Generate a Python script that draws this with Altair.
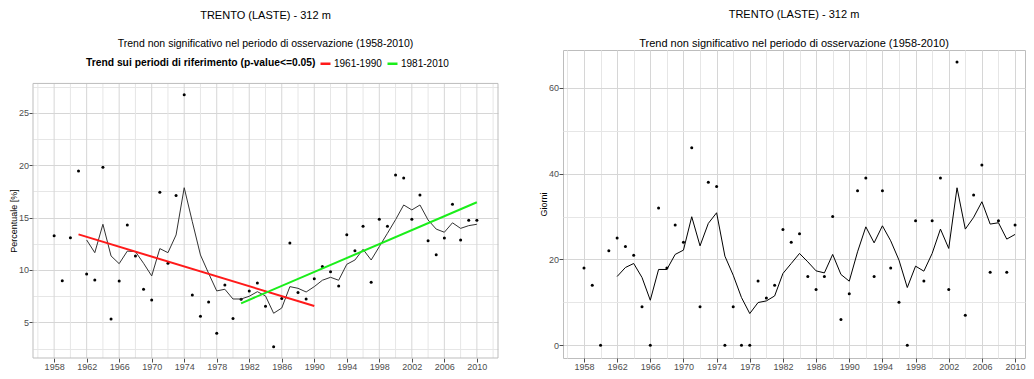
import altair as alt
import pandas as pd

YEARS = list(range(1958, 2011))
SMOOTH_YEARS = list(range(1962, 2011))

PCT = [13.27, 8.98, 13.08, 19.45, 9.62, 9.05, 19.8, 5.32, 8.95, 14.3,
       11.34, 8.16, 7.14, 17.41, 10.64, 17.1, 26.73, 7.61, 5.58, 6.95,
       3.96, 8.57, 5.36, 7.2, 8.0, 8.76, 6.53, 2.68, 7.27, 12.58,
       7.84, 7.23, 9.17, 10.32, 9.84, 8.47, 13.37, 11.84, 14.17, 8.83,
       14.84, 14.17, 19.06, 18.78, 14.84, 17.16, 12.8, 11.46, 13.05, 16.27,
       12.86, 14.74, 14.74]
PCT_SMOOTH = [12.86, 11.65, 14.36, 11.34, 10.6, 11.8, 11.75, 10.64, 9.43, 12.04,
              11.65, 13.34, 17.85, 14.6, 11.43, 9.68, 8.0, 8.16, 7.23, 7.23,
              7.49, 7.93, 7.52, 5.87, 6.37, 8.41, 8.25, 7.9, 8.41, 9.02,
              9.3, 9.02, 10.54, 10.95, 11.97, 10.95, 12.23, 13.5, 14.8, 16.2,
              15.73, 16.2, 14.77, 13.9, 13.6, 14.5, 13.97, 14.23, 14.36]

DAYS = [18, 14, 0, 22, 25, 23, 21, 9, 0, 32,
        18, 28, 24, 46, 9, 38, 37, 0, 9, 0,
        0, 15, 11, 14, 27, 24, 26, 16, 13, 16,
        30, 6, 12, 36, 39, 16, 36, 18, 10, 0,
        29, 15, 29, 39, 13, 66, 7, 35, 42, 17,
        29, 17, 28]
DAYS_SMOOTH = [16.03, 18.13, 19.06, 15.8, 10.5, 17.67, 17.67, 21.17, 22.17, 29.95,
               23.17, 28.4, 30.88, 20.77, 16.34, 11.13, 7.4, 9.96, 10.34, 11.5,
               16.73, 19.06, 21.4, 19.44, 17.34, 16.87, 21.17, 16.5, 14.94, 21.77,
               27.6, 23.87, 27.84, 24.34, 19.84, 13.46, 18.44, 17.27, 21.4, 27.07,
               22.57, 36.7, 27.07, 29.8, 33.45, 28.24, 28.55, 24.74, 25.83]

TREND_PERIODS = ["1961-1990", "1961-1990", "1981-2010", "1981-2010"]
TREND_YEARS = [1961, 1990, 1981, 2010]
TREND_VALUES = [13.4, 6.56, 6.82, 16.46]

TITLE = "TRENTO (LASTE) - 312 m"
SUBTITLE = "Trend non significativo nel periodo di osservazione (1958-2010)"
LEGEND_TITLE = "Trend sui periodi di riferimento (p-value<=0.05)"
Y_LEFT = "Percentuale [%]"
Y_RIGHT = "Giorni"

# panel extents (data units)
LEFT_X = [1955.4, 2012.6]
LEFT_Y_PANEL = [1.6, 27.8]
LEFT_Y_SCALE = [1.6, 30.99]
RIGHT_X = [1955.47, 2011.2]
RIGHT_Y = [-2.96, 68.8]
GRID_MAJOR_YEARS = list(range(1958, 2011, 4))
GRID_MINOR_YEARS = list(range(1956, 2013, 4))

FONT = "Liberation Sans"
MAJOR = "#d6d6d6"
MINOR = "#e6e6e6"
BORDER = "#bdbdbd"
RED = "#ff1a1a"
GREEN = "#1aee1a"

pts_l = pd.DataFrame({"anno": YEARS, "val": PCT})
sm_l = pd.DataFrame({"anno": SMOOTH_YEARS, "val": PCT_SMOOTH})
tr_l = pd.DataFrame({"anno": TREND_YEARS, "val": TREND_VALUES, "periodo": TREND_PERIODS})
pts_r = pd.DataFrame({"anno": YEARS, "val": DAYS})
sm_r = pd.DataFrame({"anno": SMOOTH_YEARS, "val": DAYS_SMOOTH})
gmaj = pd.DataFrame({"anno": GRID_MAJOR_YEARS})
gmaj["val"] = LEFT_Y_PANEL[0]
gmaj["val2"] = LEFT_Y_PANEL[1]
gmin = pd.DataFrame({"anno": GRID_MINOR_YEARS})
gmin["val"] = LEFT_Y_PANEL[0]
gmin["val2"] = LEFT_Y_PANEL[1]
frame_l = pd.DataFrame({"anno": [LEFT_X[0]], "anno2": [LEFT_X[1]],
                        "val": [LEFT_Y_PANEL[0]], "val2": [LEFT_Y_PANEL[1]]})


def cond(test, a, b):
    return {"condition": {"test": test, "value": a}, "value": b}


def x_enc(domain, values, grid=True):
    return alt.X(
        "anno:Q",
        scale=alt.Scale(domain=domain, nice=False, zero=False),
        axis=alt.Axis(
            values=values, format="d", title=None, grid=grid,
            labelExpr="datum.value % 4 == 2 ? datum.label : ''",
            tickOpacity=cond("datum.value % 4 == 2", 1, 0),
            gridColor=cond("datum.value % 4 == 2", MAJOR, MINOR),
            labelOverlap=False, labelFlush=False,
        ),
    )


def y_enc(domain, values, major_test, title, **kw):
    return alt.Y(
        "val:Q",
        scale=alt.Scale(domain=domain, nice=False, zero=False),
        axis=alt.Axis(
            values=values, title=title,
            labelExpr=f"{major_test} ? datum.label : ''",
            tickOpacity=cond(major_test, 1, 0),
            gridColor=cond(major_test, MAJOR, MINOR),
            labelOverlap=False, labelFlush=False, **kw,
        ),
    )


def title_params(sub_size):
    return alt.Title(TITLE, subtitle=SUBTITLE, fontSize=11, subtitleFontSize=sub_size,
                     fontWeight="normal", anchor="middle", frame="group",
                     color="black", subtitleColor="black", subtitlePadding=18, offset=1)


# ---------- left panel ----------
xl = x_enc(LEFT_X, list(range(1956, 2013, 2)), grid=False)
yl = y_enc(LEFT_Y_SCALE, [2.5 * i for i in range(1, 12)], "datum.value % 5 == 0", Y_LEFT,
           titleY=170.5)

left_gmin = alt.Chart(gmin).mark_rule(color=MINOR, strokeWidth=1).encode(
    x=xl, y=yl, y2="val2:Q")
left_gmaj = alt.Chart(gmaj).mark_rule(color=MAJOR, strokeWidth=1).encode(
    x=xl, y=yl, y2="val2:Q")
left_frame = alt.Chart(frame_l).mark_rect(fillOpacity=0, stroke=BORDER, strokeWidth=1).encode(
    x=xl, x2="anno2:Q", y=yl, y2="val2:Q")
left_pts = alt.Chart(pts_l).mark_circle(size=9, color="black", opacity=1).encode(x=xl, y=yl)
left_line = alt.Chart(sm_l).mark_line(color="#333333", strokeWidth=1).encode(x=xl, y=yl)
left_trend = alt.Chart(tr_l).mark_line(strokeWidth=2).encode(
    x=xl, y=yl,
    color=alt.Color(
        "periodo:N",
        scale=alt.Scale(domain=["1961-1990", "1981-2010"], range=[RED, GREEN]),
        legend=alt.Legend(
            title=LEGEND_TITLE, orient="none", legendX=53, legendY=7,
            direction="horizontal", titleOrient="left", titleFontWeight="bold",
            titleFontSize=10.3, labelFontSize=10, titleColor="black", labelColor="black",
            symbolType="stroke", symbolStrokeWidth=2.5, symbolSize=100,
            columnPadding=0, labelOffset=2, titlePadding=3, titleLimit=500,
        ),
    ),
)

left = alt.layer(left_gmin, left_gmaj, left_pts, left_line, left_trend, left_frame).properties(
    width=465, height=308, title=title_params(10.5),
    view=alt.ViewBackground(stroke="transparent"),
)

# ---------- right panel ----------
xr = x_enc(RIGHT_X, list(range(1956, 2011, 2)))
yr = y_enc(RIGHT_Y, [0, 10, 20, 30, 40, 50, 60], "datum.value % 20 == 0", Y_RIGHT)

right_pts = alt.Chart(pts_r).mark_circle(size=9, color="black", opacity=1).encode(x=xr, y=yr)
right_line = alt.Chart(sm_r).mark_line(color="black", strokeWidth=1).encode(x=xr, y=yr)

right = alt.layer(right_pts, right_line).properties(
    width=462, height=308, title=title_params(11),
)

chart = alt.concat(left, right, columns=2, align="none", spacing=39).resolve_scale(
    x="independent", y="independent", color="independent"
).properties(padding=0).configure(font=FONT).configure_view(
    stroke=BORDER
).configure_axis(
    domain=False, tickColor="#4d4d4d", labelColor="#4d4d4d", labelFontSize=9,
    titleFontSize=9, titleFontWeight="normal", titleColor="black",
    tickSize=4, labelPadding=0.5, titlePadding=0, gridWidth=1,
)

chart.save("out.html", embed_options={"renderer": "svg", "actions": False})
